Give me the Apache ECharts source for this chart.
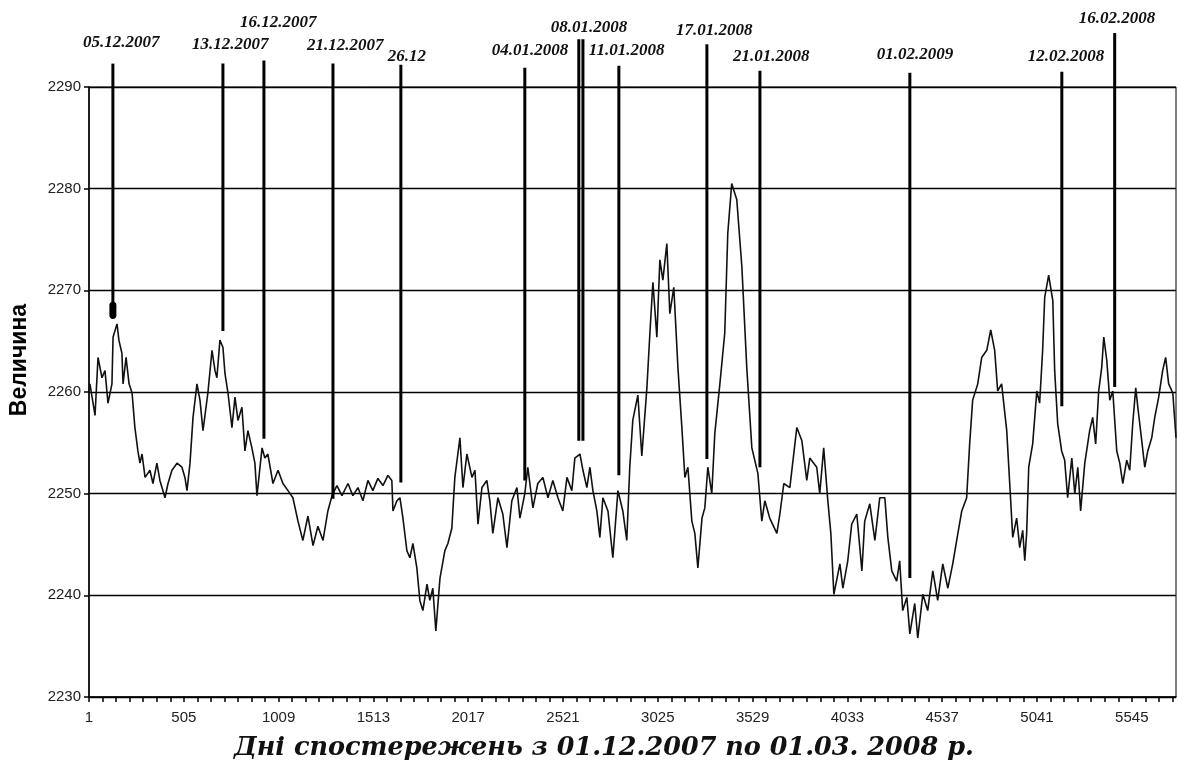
<!DOCTYPE html>
<html>
<head>
<meta charset="utf-8">
<title>Величина</title>
<script src="https://cdn.jsdelivr.net/npm/echarts@6/dist/echarts.min.js"></script>
<style>
  html, body { margin: 0; padding: 0; background: #fff; }
  #chart { width: 1178px; height: 773px; }
</style>
</head>
<body>
<div id="chart"></div>
<script>
// observation index (day of series) and measured value
const days = [
  1, 6, 33, 49, 70, 86, 102, 123, 129, 150, 160, 176, 182, 198, 214, 230, 245, 261, 272, 283,
  299, 325, 341, 362, 378, 405, 421, 442, 469, 495, 511, 522, 538, 554, 575, 591, 607, 633, 655, 671,
  681, 697, 713, 724, 740, 761, 777, 793, 814, 830, 846, 867, 883, 894, 921, 936, 952, 979, 1006, 1032,
  1059, 1085, 1112, 1138, 1165, 1192, 1218, 1245, 1271, 1293, 1319, 1346, 1378, 1404, 1431, 1457, 1484, 1510, 1537, 1564,
  1590, 1611, 1617, 1638, 1654, 1670, 1691, 1707, 1723, 1744, 1760, 1776, 1798, 1813, 1829, 1845, 1867, 1893, 1909, 1930,
  1946, 1973, 1989, 2010, 2037, 2053, 2069, 2090, 2116, 2132, 2148, 2175, 2201, 2223, 2249, 2276, 2292, 2318, 2334, 2361,
  2387, 2414, 2441, 2467, 2494, 2520, 2542, 2568, 2584, 2611, 2627, 2648, 2664, 2680, 2701, 2717, 2733, 2760, 2786, 2813,
  2839, 2860, 2876, 2892, 2919, 2940, 2967, 2983, 2999, 3020, 3036, 3052, 3073, 3089, 3110, 3132, 3153, 3169, 3185, 3206,
  3222, 3238, 3260, 3275, 3291, 3312, 3328, 3355, 3381, 3397, 3418, 3445, 3472, 3498, 3525, 3557, 3578, 3594, 3620, 3658,
  3674, 3695, 3727, 3764, 3791, 3817, 3833, 3870, 3886, 3907, 3929, 3945, 3961, 3993, 4009, 4035, 4056, 4083, 4110, 4125,
  4152, 4179, 4205, 4232, 4248, 4269, 4295, 4311, 4327, 4349, 4365, 4391, 4407, 4434, 4460, 4487, 4513, 4540, 4567, 4593,
  4614, 4641, 4667, 4683, 4699, 4726, 4747, 4774, 4795, 4816, 4832, 4853, 4880, 4896, 4912, 4933, 4949, 4965, 4976, 4986,
  4997, 5018, 5040, 5055, 5071, 5082, 5103, 5125, 5135, 5151, 5172, 5188, 5204, 5226, 5242, 5258, 5273, 5295, 5321, 5337,
  5353, 5369, 5385, 5396, 5412, 5428, 5444, 5465, 5481, 5497, 5518, 5534, 5550, 5566, 5577, 5598, 5614, 5630, 5651, 5667,
  5688, 5709, 5725, 5741, 5763, 5780
];
const values = [
  2260.1, 2260.8, 2257.7, 2263.4, 2261.4, 2262.1, 2258.9, 2260.8, 2265.4, 2266.7, 2265.1, 2263.8, 2260.8, 2263.4, 2260.8, 2259.9, 2256.5, 2254.2, 2253.0, 2253.9,
  2251.6, 2252.3, 2251.0, 2253.0, 2251.3, 2249.6, 2251.0, 2252.3, 2253.0, 2252.6, 2251.6, 2250.3, 2253.0, 2257.5, 2260.8, 2259.2, 2256.2, 2259.9, 2264.1, 2262.1,
  2261.4, 2265.1, 2264.4, 2261.8, 2259.9, 2256.5, 2259.5, 2257.2, 2258.5, 2254.2, 2256.2, 2254.5, 2253.0, 2249.8, 2254.5, 2253.5, 2253.9, 2251.0, 2252.3, 2251.0,
  2250.3, 2249.6, 2247.3, 2245.4, 2247.8, 2244.9, 2246.8, 2245.4, 2248.3, 2249.8, 2250.8, 2249.8, 2251.0, 2249.8, 2250.6, 2249.3, 2251.3, 2250.3, 2251.5, 2250.8,
  2251.8, 2251.3, 2248.3, 2249.3, 2249.6, 2247.6, 2244.4, 2243.7, 2245.1, 2242.7, 2239.5, 2238.5, 2241.1, 2239.5, 2240.7, 2236.5, 2241.7, 2244.4, 2245.1, 2246.6,
  2251.6, 2255.5, 2250.6, 2253.9, 2251.6, 2252.3, 2247.0, 2250.6, 2251.3, 2249.3, 2246.1, 2249.6, 2248.0, 2244.7, 2249.3, 2250.6, 2247.6, 2250.0, 2252.6, 2248.6,
  2251.0, 2251.6, 2249.6, 2251.3, 2249.6, 2248.3, 2251.6, 2250.3, 2253.5, 2253.9, 2252.3, 2250.6, 2252.6, 2250.3, 2248.3, 2245.7, 2249.6, 2248.3, 2243.7, 2250.3,
  2248.3, 2245.4, 2252.6, 2257.2, 2259.7, 2253.7, 2260.4, 2265.8, 2270.8, 2265.4, 2273.0, 2271.0, 2274.6, 2267.7, 2270.3, 2262.4, 2256.5, 2251.6, 2252.6, 2247.3,
  2246.1, 2242.7, 2247.6, 2248.6, 2252.6, 2250.0, 2255.9, 2260.8, 2265.8, 2275.6, 2280.5, 2278.9, 2272.3, 2262.4, 2254.5, 2252.0, 2247.3, 2249.3, 2247.6, 2246.1,
  2248.0, 2251.0, 2250.6, 2256.5, 2255.2, 2251.3, 2253.5, 2252.6, 2250.0, 2254.5, 2249.3, 2246.1, 2240.1, 2243.1, 2240.7, 2243.4, 2247.0, 2248.0, 2242.4, 2247.3,
  2249.0, 2245.4, 2249.6, 2249.6, 2245.7, 2242.4, 2241.4, 2243.4, 2238.5, 2239.8, 2236.2, 2239.2, 2235.8, 2240.1, 2238.5, 2242.4, 2239.5, 2243.1, 2240.7, 2243.1,
  2245.4, 2248.3, 2249.6, 2254.9, 2259.2, 2260.8, 2263.4, 2264.1, 2266.1, 2264.1, 2260.1, 2260.8, 2256.2, 2251.0, 2245.7, 2247.6, 2244.7, 2246.4, 2243.4, 2246.1,
  2252.6, 2254.9, 2260.1, 2258.9, 2264.1, 2269.3, 2271.5, 2269.0, 2262.1, 2256.9, 2254.2, 2253.3, 2249.6, 2253.5, 2250.0, 2252.6, 2248.3, 2253.0, 2256.2, 2257.5,
  2254.9, 2260.1, 2262.4, 2265.4, 2263.1, 2259.2, 2260.1, 2254.2, 2253.0, 2251.0, 2253.3, 2252.3, 2256.9, 2260.4, 2258.5, 2255.2, 2252.6, 2254.2, 2255.5, 2257.5,
  2259.5, 2262.1, 2263.4, 2260.8, 2259.9, 2255.5
];

// x axis: labels every 504 observations, tick every 72
const lastDay = 5780;
const labelStep = 504;
const tickStep = 72;

// marked dates: observation index, line top / bottom value
const eventLabels = ['05.12.2007', '13.12.2007', '16.12.2007', '21.12.2007', '26.12', '04.01.2008',
  '08.01.2008', '', '11.01.2008', '17.01.2008', '21.01.2008', '01.02.2009', '12.02.2008', '16.02.2008'];
const eventDays = [128, 713, 931, 1298, 1659, 2318, 2605, 2627, 2818, 3286, 3568, 4365, 5173, 5454];
const eventTop = [2292.3, 2292.3, 2292.6, 2292.3, 2292.2, 2291.9, 2294.7, 2294.7, 2292.1, 2294.2, 2291.6, 2291.4, 2291.5, 2295.3];
const eventBottom = [2267.2, 2266.0, 2255.4, 2249.5, 2251.1, 2251.3, 2255.2, 2255.2, 2251.8, 2253.4, 2252.6, 2241.7, 2258.6, 2260.5];

// label placement relative to the top of each line (px)
const labelDx = [-30, -31, -24, -26, -13, -33, -28, 0, -30, -31, -27, -33, -34, -36];
const labelGap = [13, 11, 29, 10, 0, 9, 3, 0, 7, 5, 6, 10, 7, 6];

const chart = echarts.init(document.getElementById('chart'), null, { renderer: 'canvas' });

const lineData = days.map((d, i) => [d - 1, values[i]]);
const eventData = eventDays.map((d, i) => [d - 1, eventTop[i], eventBottom[i], i]);

chart.setOption({
  animation: false,
  backgroundColor: '#fff',
  grid: { left: 89, right: 2, top: 87, bottom: 76, show: true, borderColor: '#000', borderWidth: 1 },
  xAxis: {
    type: 'value',
    min: 0,
    max: lastDay - 1,
    interval: tickStep,
    axisLine: { show: true, onZero: false, lineStyle: { color: '#000', width: 1.5 } },
    axisTick: { show: true, length: 5, lineStyle: { color: '#000', width: 1.5 } },
    axisLabel: {
      showMaxLabel: false,
      color: '#222',
      fontFamily: 'Liberation Sans Narrow, Liberation Sans, Arial, sans-serif',
      fontSize: 15,
      margin: 13,
      formatter: (v) => (v % labelStep === 0 ? String(v + 1) : '')
    },
    splitLine: { show: false }
  },
  yAxis: {
    type: 'value',
    min: 2230,
    max: 2290,
    interval: 10,
    axisLine: { show: true, lineStyle: { color: '#000', width: 1.5 } },
    axisTick: { show: true, length: 5, lineStyle: { color: '#000', width: 1.5 } },
    axisLabel: {
      color: '#222',
      fontFamily: 'Liberation Sans Narrow, Liberation Sans, Arial, sans-serif',
      fontSize: 15,
      margin: 8,
      formatter: (v) => String(v)
    },
    splitLine: { show: true, lineStyle: { color: '#000', width: 1.3 } }
  },
  graphic: [
    {
      type: 'text',
      x: 20,
      y: 360,
      rotation: Math.PI / 2,
      style: {
        text: 'Величина',
        font: 'bold 23px "Liberation Sans", Arial, sans-serif',
        fill: '#000',
        align: 'center',
        verticalAlign: 'middle'
      }
    },
    {
      type: 'text',
      x: 604,
      y: 748,
      style: {
        text: 'Дні спостережень з 01.12.2007 по 01.03. 2008 р.',
        font: 'italic bold 25.5px "DejaVu Serif", serif',
        fill: '#111',
        align: 'center',
        verticalAlign: 'middle'
      }
    }
  ],
  series: [
    {
      type: 'line',
      data: lineData,
      showSymbol: false,
      lineStyle: { color: '#111', width: 1.6 },
      z: 3
    },
    {
      type: 'custom',
      data: eventData,
      encode: { x: 0, y: [1, 2] },
      clip: false,
      z: 4,
      renderItem: function (params, api) {
        const i = api.value(3);
        const top = api.coord([api.value(0), api.value(1)]);
        const bot = api.coord([api.value(0), api.value(2)]);
        const children = [
          {
            type: 'line',
            shape: { x1: top[0], y1: top[1], x2: bot[0], y2: bot[1] },
            style: { stroke: '#000', lineWidth: 3 }
          }
        ];
        if (i === 0) {
          children.push({
            type: 'rect',
            shape: { x: bot[0] - 3.5, y: bot[1] - 17, width: 7, height: 17, r: 3.5 },
            style: { fill: '#000' }
          });
        }
        if (eventLabels[i]) {
          children.push({
            type: 'text',
            x: top[0] + labelDx[i],
            y: top[1] - labelGap[i],
            style: {
              text: eventLabels[i],
              font: 'italic bold 17px "Liberation Serif", serif',
              fill: '#111',
              align: 'left',
              verticalAlign: 'bottom'
            }
          });
        }
        return { type: 'group', children: children };
      }
    }
  ]
});

window.addEventListener('resize', () => chart.resize());
</script>
</body>
</html>
